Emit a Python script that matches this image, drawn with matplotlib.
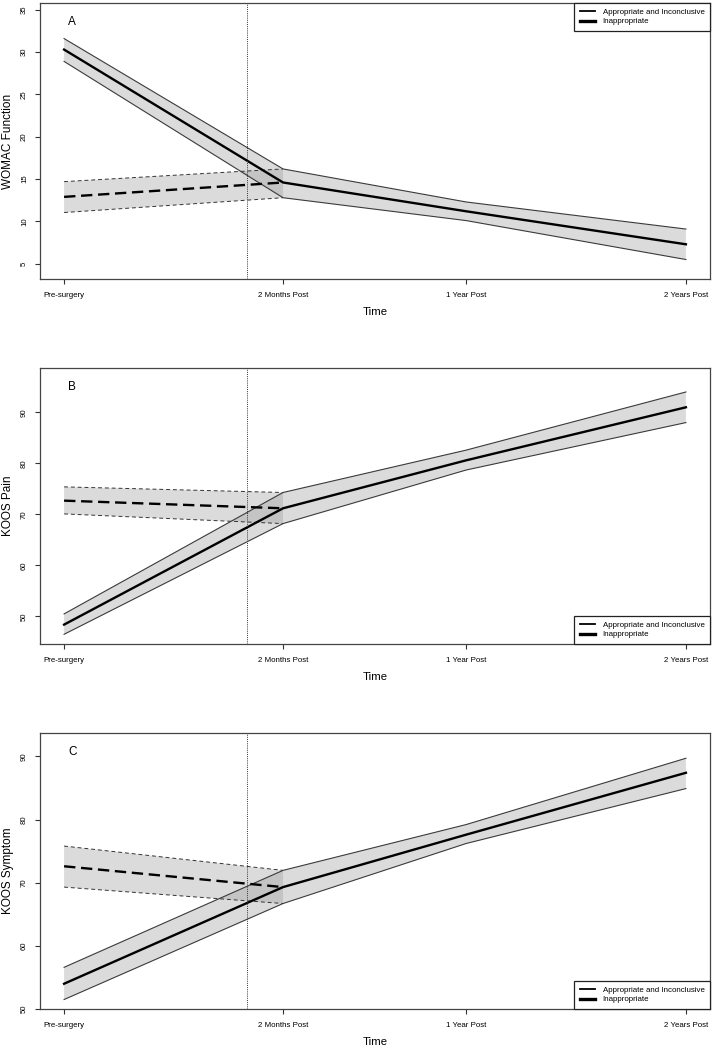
import matplotlib
matplotlib.use("Agg")
import matplotlib.pyplot as plt
from matplotlib.lines import Line2D

plt.rcParams['font.family'] = ['Liberation Sans', 'DejaVu Sans']

# ---- data ----
time_labels = ["Pre-surgery", "2 Months Post", "1 Year Post", "2 Years Post"]
time_x = [0.0, 1.0, 1.836, 2.840]
surgery_x = 0.836

panel_letters = ["A", "B", "C"]
y_labels = ["WOMAC Function", "KOOS Pain", "KOOS Symptom"]

# Panel A: WOMAC Function
a_app_mean = [30.3, 14.6, 11.2, 7.3]
a_app_lo = [28.9, 12.8, 10.1, 5.5]
a_app_hi = [31.6, 16.2, 12.3, 9.1]
a_inap_mean = [12.9, 14.6]
a_inap_lo = [11.05, 12.8]
a_inap_hi = [14.7, 16.2]

# Panel B: KOOS Pain
b_app_mean = [48.4, 71.2, 80.6, 91.0]
b_app_lo = [46.5, 68.2, 78.7, 88.0]
b_app_hi = [50.5, 74.3, 82.6, 94.0]
b_inap_mean = [72.7, 71.2]
b_inap_lo = [70.1, 68.2]
b_inap_hi = [75.4, 74.3]

# Panel C: KOOS Symptom
c_app_mean = [54.0, 69.3, 77.6, 87.4]
c_app_lo = [51.5, 66.7, 76.2, 84.9]
c_app_hi = [56.6, 71.95, 79.2, 89.7]
c_inap_mean = [72.6, 69.3]
c_inap_lo = [69.3, 66.7]
c_inap_hi = [75.8, 71.95]

y_ticks = [[5, 10, 15, 20, 25, 30, 35], [50, 60, 70, 80, 90], [50, 60, 70, 80, 90]]
y_limits = [(3.2, 35.8), (44.6, 98.7), (50.0, 93.7)]
legend_locs = ["upper right", "lower right", "lower right"]

panels = [
    (a_app_mean, a_app_lo, a_app_hi, a_inap_mean, a_inap_lo, a_inap_hi),
    (b_app_mean, b_app_lo, b_app_hi, b_inap_mean, b_inap_lo, b_inap_hi),
    (c_app_mean, c_app_lo, c_app_hi, c_inap_mean, c_inap_lo, c_inap_hi),
]

# ---- figure ----
W, H = 713, 1048
fig = plt.figure(figsize=(W / 100, H / 100), dpi=100)
box_tops = [3, 368, 733]
box_h = 276
left, right = 40, 710

band_face = '#9a9a9a'
band_alpha = 0.35

for i, (am, alo, ahi, im, ilo, ihi) in enumerate(panels):
    top = box_tops[i]
    ax = fig.add_axes([left / W, (H - top - box_h) / H, (right - left) / W, box_h / H])
    xi = time_x[:len(im)]
    # bands
    ax.fill_between(xi, ilo, ihi, facecolor=band_face, alpha=band_alpha, linewidth=0)
    ax.fill_between(time_x, alo, ahi, facecolor=band_face, alpha=band_alpha, linewidth=0)
    # band borders
    ax.plot(xi, ilo, color='#333333', lw=0.7, linestyle=(0, (4, 3)))
    ax.plot(xi, ihi, color='#333333', lw=0.7, linestyle=(0, (4, 3)))
    ax.plot(time_x, alo, color='#3a3a3a', lw=0.8)
    ax.plot(time_x, ahi, color='#3a3a3a', lw=0.8)
    # means
    ax.plot(xi, im, color='black', lw=1.7, linestyle=(0, (4.8, 2.4)))
    ax.plot(time_x, am, color='black', lw=1.7)
    # surgery line
    ax.axvline(surgery_x, color='#333333', lw=0.7, linestyle=(0, (1, 1.2)))

    ax.set_xlim(-0.11, 2.95)
    ax.set_ylim(*y_limits[i])
    ax.set_xticks(time_x)
    ax.set_xticklabels(time_labels, fontsize=5.7)
    ax.set_yticks(y_ticks[i])
    ax.set_yticklabels([str(v) for v in y_ticks[i]], fontsize=5.6, rotation=90, va='center')
    ax.tick_params(axis='x', length=3.6, width=0.8, pad=5.5, color='#333333')
    ax.tick_params(axis='y', length=3.6, width=0.8, pad=5, color='#333333')
    for s in ax.spines.values():
        s.set_linewidth(0.9)
        s.set_color('#444444')
    ax.set_xlabel("Time", fontsize=8.2, labelpad=6)
    ax.set_ylabel(y_labels[i], fontsize=8.5, labelpad=5)
    ax.text(0.048, 0.93, panel_letters[i], transform=ax.transAxes, fontsize=8.5,
            ha='center', va='center')

    handles = [Line2D([], [], color='black', lw=1.3),
               Line2D([], [], color='black', lw=2.4)]
    leg = ax.legend(handles, ["Appropriate and Inconclusive", "Inappropriate"],
                    loc=legend_locs[i], fontsize=5.7, frameon=True, fancybox=False,
                    edgecolor='#222222', framealpha=1, borderaxespad=0,
                    handlelength=2.0, handletextpad=0.9, labelspacing=0.22,
                    borderpad=0.7)
    leg.get_frame().set_linewidth(0.9)

fig.savefig("out.png", dpi=100)
